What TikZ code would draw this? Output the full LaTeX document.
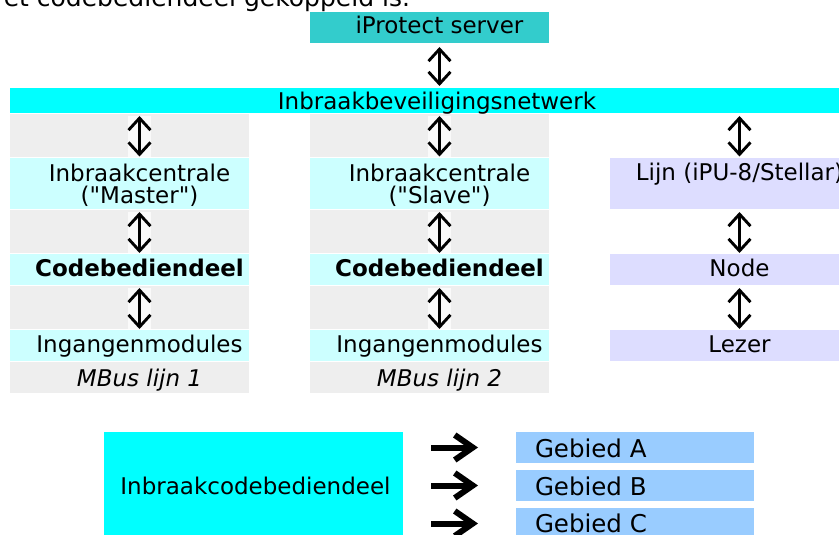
\documentclass[tikz,border=0pt]{standalone}
\usepackage{fontspec}
\setmainfont{DejaVu Sans}[Ligatures=TeXOff]
\usetikzlibrary{arrows.meta}
\definecolor{srvc}{HTML}{33CCCC}
\definecolor{netc}{HTML}{00FFFF}
\definecolor{lcyan}{HTML}{CCFFFF}
\definecolor{lgray}{HTML}{EEEEEE}
\definecolor{lav}{HTML}{DDDDFF}
\definecolor{areac}{HTML}{99CCFF}
\definecolor{patchc}{HTML}{FAFAFA}
\newcommand{\diafs}{\fontsize{23pt}{23pt}\selectfont}
\newcommand{\diafsb}{\fontsize{24.5pt}{24.5pt}\selectfont}
\begin{document}
\begin{tikzpicture}[x=1pt,y=-1pt,
  cell/.style={rectangle, inner sep=0pt, outer sep=0pt, draw=none, anchor=north west},
  lbl/.style={inner sep=0pt, outer sep=0pt, font=\diafs, text=black},
  vdbl/.style={line width=2.9pt, {Straight Barb[length=12pt,width=22pt]}-{Straight Barb[length=12pt,width=22pt]}},
  rarr/.style={line width=6pt, -{Straight Barb[length=18pt,width=25pt]}},
]
\useasboundingbox (0,0) rectangle (839,535);
\clip (0,0) rectangle (839,535);

% clipped sentence at the top
\node[lbl, font=\fontsize{25pt}{25pt}\selectfont, anchor=base east] (intro) at (410,7) {et codebediendeel gekoppeld is.};

% server and network
\node[cell, fill=srvc, minimum width=239pt, minimum height=31pt] (srv) at (310,12) {};
\node[lbl, anchor=base] (srvt) at ([xshift=10pt,yshift=-22pt]srv.north) {iProtect server};
\node[cell, fill=netc, minimum width=854pt, minimum height=25pt] (net) at (10,88) {};
\node[lbl, anchor=base] (nett) at ([yshift=-22pt]net.north) {Inbraakbeveiligingsnetwerk};
\coordinate (srvx) at ([xshift=10pt]srv.south);
\draw[vdbl, shorten <=4pt, shorten >=2pt] (srvx) -- (srvx |- net.north);

% columns 1 and 2
\foreach \c/\x/\lab/\mb in {1/10/Master/1, 2/310/Slave/2} {
  \fill[lgray] (\x,114) rectangle ++(239,43);
  \fill[lgray] (\x,210) rectangle ++(239,43);
  \fill[lgray] (\x,286) rectangle ++(239,43);
  \fill[patchc] (\x+118,116) rectangle ++(23,41);
  \fill[patchc] (\x+118,212) rectangle ++(23,41);
  \fill[patchc] (\x+118,288) rectangle ++(23,41);
  \node[cell, fill=lcyan, minimum width=239pt, minimum height=51pt] (c\c a) at (\x,158) {};
  \node[cell, fill=lcyan, minimum width=239pt, minimum height=31pt] (c\c b) at (\x,254) {};
  \node[cell, fill=lcyan, minimum width=239pt, minimum height=31pt] (c\c c) at (\x,330) {};
  \node[cell, fill=lgray, minimum width=239pt, minimum height=31pt] (c\c d) at (\x,362) {};
  \node[lbl, anchor=base] (t\c a1) at ([xshift=10pt,yshift=-23pt]c\c a.north) {Inbraakcentrale};
  \node[lbl, anchor=base] (t\c a2) at ([yshift=-22pt]t\c a1.base) {("\lab")};
  \node[lbl, font=\diafs\bfseries, anchor=base] (t\c b) at ([xshift=10pt,yshift=-22pt]c\c b.north) {Codebediendeel};
  \node[lbl, anchor=base] (t\c c) at ([xshift=10pt,yshift=-22pt]c\c c.north) {Ingangenmodules};
  \node[lbl, font=\diafs\itshape, anchor=base] (t\c d) at ([xshift=10pt,yshift=-24pt]c\c d.north) {MBus lijn \mb};
  \coordinate (x\c) at ([xshift=10pt]c\c a.north);
  \draw[vdbl, shorten <=3pt, shorten >=1.5pt] (x\c |- net.south) -- (x\c |- c\c a.north);
  \draw[vdbl, shorten <=3pt, shorten >=1pt] (x\c |- c\c a.south) -- (x\c |- c\c b.north);
  \draw[vdbl, shorten <=3pt, shorten >=1pt] (x\c |- c\c b.south) -- (x\c |- c\c c.north);
}

% column 3
\node[cell, fill=lav, minimum width=259pt, minimum height=51pt] (c3a) at (610,158) {};
\node[cell, fill=lav, minimum width=259pt, minimum height=31pt] (c3b) at (610,254) {};
\node[cell, fill=lav, minimum width=259pt, minimum height=31pt] (c3c) at (610,330) {};
\node[lbl, anchor=base] (t3a) at ([yshift=-22pt]c3a.north) {Lijn (iPU-8/Stellar)};
\node[lbl, anchor=base] (t3b) at ([yshift=-22pt]c3b.north) {Node};
\node[lbl, anchor=base] (t3c) at ([yshift=-22pt]c3c.north) {Lezer};
\draw[vdbl, shorten <=3pt, shorten >=1.5pt] (c3a.north |- net.south) -- (c3a.north);
\draw[vdbl, shorten <=3pt, shorten >=1pt] (c3a.south) -- (c3b.north);
\draw[vdbl, shorten <=3pt, shorten >=1pt] (c3b.south) -- (c3c.north);

% bottom part
\node[cell, fill=netc, minimum width=299pt, minimum height=110pt] (kbd) at (104,432) {};
\node[lbl, anchor=base] (kbdt) at ([xshift=2pt,yshift=-62pt]kbd.north) {Inbraakcodebediendeel};
\node[cell, fill=areac, minimum width=238pt, minimum height=31pt] (ga) at (516,432) {};
\node[cell, fill=areac, minimum width=238pt, minimum height=31pt] (gb) at (516,470) {};
\node[cell, fill=areac, minimum width=238pt, minimum height=31pt] (gc) at (516,508) {};
\node[lbl, font=\diafsb, anchor=base west] (gat) at ([xshift=19pt,yshift=-25pt]ga.north west) {Gebied A};
\node[lbl, font=\diafsb, anchor=base west] (gbt) at ([xshift=19pt,yshift=-25pt]gb.north west) {Gebied B};
\node[lbl, font=\diafsb, anchor=base west] (gct) at ([xshift=19pt,yshift=-24pt]gc.north west) {Gebied C};
\coordinate (arrx) at ([xshift=28pt]kbd.east);
\draw[rarr] (arrx |- ga.west) -- ([xshift=-38pt]ga.west);
\draw[rarr] (arrx |- gb.west) -- ([xshift=-38pt]gb.west);
\draw[rarr] (arrx |- gc.west) -- ([xshift=-38pt]gc.west);
\end{tikzpicture}
\end{document}
